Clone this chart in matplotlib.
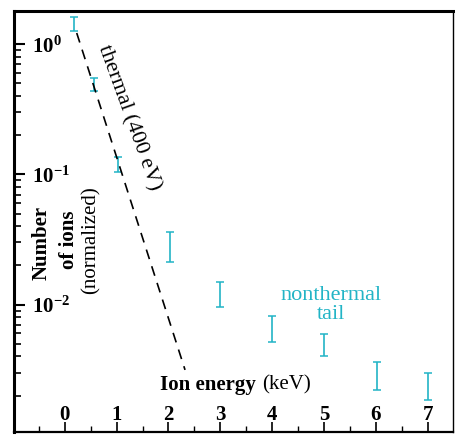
import numpy as np
import matplotlib
matplotlib.use('Agg')
import matplotlib.pyplot as plt
from matplotlib.ticker import MultipleLocator, LogLocator, NullFormatter

plt.rcParams['font.family'] = 'serif'
plt.rcParams['font.serif'] = ['Liberation Serif', 'DejaVu Serif']

# measured ion distribution (error bars, low / high)
energy = [0.17, 0.56, 1.02, 2.03, 3.0, 4.0, 5.0, 6.02, 7.0]
ions_lo = [1.26, 0.44, 0.104, 0.0214, 0.0095, 0.0052, 0.0040, 0.0022, 0.00186]
ions_hi = [1.61, 0.55, 0.135, 0.0358, 0.0150, 0.0081, 0.0059, 0.0036, 0.0030]

# thermal (400 eV) fit line
thermal_x = [0.23, 2.32]
thermal_y = [1.22, 3.15e-3]

xticks = [0, 1, 2, 3, 4, 5, 6, 7]
yticks = [1e-2, 1e-1, 1e0]

cyan = '#22b4c6'

fig = plt.figure(figsize=(4.56, 4.36), dpi=100)
ax = fig.add_axes([14/456, 1 - 432/436, 439/456, 421/436])

lo = np.array(ions_lo)
hi = np.array(ions_hi)
mid = np.sqrt(lo * hi)
ax.errorbar(energy, mid, yerr=[mid - lo, hi - mid], fmt='none',
            ecolor=cyan, elinewidth=1.2, capsize=3, capthick=1.1)

ax.plot(thermal_x, thermal_y, color='black', lw=1.2, dashes=(6, 4.5))

ax.set_yscale('log')
ax.set_xlim(-0.98, 7.49)
ax.set_ylim(1.05e-3, 1.8)

ax.set_xticks(xticks)
ax.xaxis.set_minor_locator(MultipleLocator(0.5))
ax.set_yticks(yticks)
ax.yaxis.set_minor_locator(LogLocator(base=10, subs=np.arange(2, 10)))
ax.yaxis.set_minor_formatter(NullFormatter())

ax.tick_params(axis='x', which='major', direction='in', length=7, width=1.2,
               pad=-19.5, labelsize=15)
ax.tick_params(axis='x', which='minor', direction='in', length=4, width=1.0)
ax.tick_params(axis='y', which='major', direction='in', length=8, width=1.5,
               pad=-13, labelsize=15)
ax.tick_params(axis='y', which='minor', direction='in', length=5, width=1.2)
for lab in ax.get_xticklabels() + ax.get_yticklabels():
    lab.set_fontweight('bold')
for lab in ax.get_yticklabels():
    lab.set_horizontalalignment('left')

ax.spines['left'].set_linewidth(2.2)
ax.spines['top'].set_linewidth(2.2)
ax.spines['bottom'].set_linewidth(1.6)
ax.spines['right'].set_linewidth(1.0)

def fx(px):
    return (px - 14) / 439

def fy(py):
    return (432 - py) / 421

# y label, three rotated lines
ax.text(fx(42), fy(243), 'Number', rotation=90, fontsize=15, fontweight='bold',
        ha='center', va='center', transform=ax.transAxes)
ax.text(fx(69), fy(240), 'of ions', rotation=90, fontsize=15, fontweight='bold',
        ha='center', va='center', transform=ax.transAxes)
ax.text(fx(91), fy(240), '(normalized)', rotation=90, fontsize=15,
        ha='center', va='center', transform=ax.transAxes)

# x label
ax.text(fx(256), fy(385), 'Ion energy', fontsize=15, fontweight='bold',
        ha='right', va='center', transform=ax.transAxes)
ax.text(fx(262), fy(385), '(keV)', fontsize=15,
        ha='left', va='center', transform=ax.transAxes)

ax.text(fx(129), fy(118), 'thermal (400 eV)', rotation=-70, fontsize=16,
        ha='center', va='center', rotation_mode='anchor', transform=ax.transAxes)

ax.text(fx(331), fy(305), 'nonthermal\ntail', color=cyan, fontsize=16,
        ha='center', va='center', linespacing=0.95, transform=ax.transAxes)

fig.savefig('out.png', dpi=100)
